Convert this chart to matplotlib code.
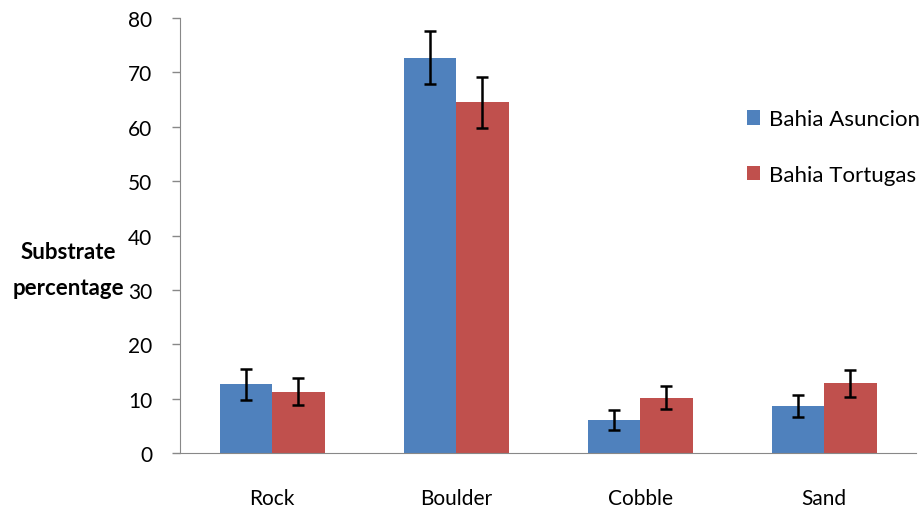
import numpy as np
import matplotlib.pyplot as plt

plt.rcParams['font.family'] = ['Lato', 'DejaVu Sans']

categories = ['Rock', 'Boulder', 'Cobble', 'Sand']
asuncion = [12.6, 72.7, 6.1, 8.7]
asuncion_err = [2.85, 4.9, 1.85, 2.05]
tortugas = [11.3, 64.5, 10.2, 12.8]
tortugas_err = [2.5, 4.7, 2.1, 2.5]

fig = plt.figure(figsize=(9.19, 5.10), dpi=100)
ax = fig.add_axes([0.196, 0.1098, 0.801, 0.8529])

x = np.arange(len(categories))
w = 0.285
err_kw = dict(ecolor='black', elinewidth=1.8, capsize=4.5, capthick=1.8)
ax.bar(x - w/2, asuncion, w, yerr=asuncion_err, color='#4F81BD', label='Bahia Asuncion', error_kw=err_kw)
ax.bar(x + w/2, tortugas, w, yerr=tortugas_err, color='#C0504D', label='Bahia Tortugas', error_kw=err_kw)

ax.set_xlim(-0.5, 3.5)
ax.set_ylim(0, 80)
ax.set_yticks(range(0, 81, 10))
ax.set_xticks(x)
ax.set_xticklabels(categories)
ax.tick_params(axis='x', length=0, pad=25, labelsize=15)
ax.tick_params(axis='y', length=6, color='#888888', width=1, pad=14, labelsize=15)
for s in ['top', 'right']:
    ax.spines[s].set_visible(False)
ax.spines['left'].set_color('#888888')
ax.spines['bottom'].set_color('#888888')

fig.text(0.074, 0.469, 'Substrate\npercentage', ha='center', va='center',
         fontsize=16, fontweight='bold', linespacing=1.9)

ax.legend(loc='upper left', bbox_to_anchor=(0.77, 0.79), frameon=False, fontsize=16,
          borderpad=0, borderaxespad=0,
          handlelength=0.6, handleheight=0.6, handletextpad=0.4, labelspacing=1.6)

fig.savefig('out.png', dpi=100)
